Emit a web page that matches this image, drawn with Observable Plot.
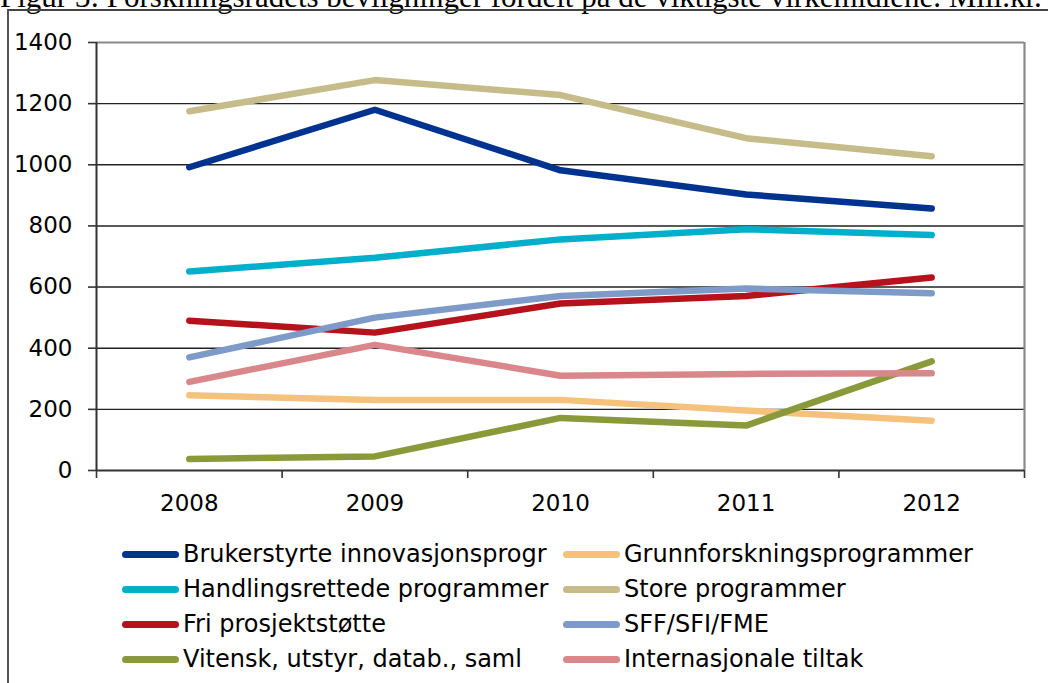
<!DOCTYPE html>
<html>
<head>
<meta charset="utf-8">
<script src="https://cdn.jsdelivr.net/npm/d3@7"></script>
<script src="https://cdn.jsdelivr.net/npm/@observablehq/plot@0.6"></script>
<style>
  html, body { margin: 0; padding: 0; background: #fff; }
  #wrap { position: relative; width: 1048px; height: 683px; overflow: hidden; background: #fff; }
  #title { position: absolute; left: 0; top: -19.5px; font-family: "Liberation Serif", "Times New Roman", serif; font-size: 31px; line-height: 31px; white-space: nowrap; color: #000; }
  #frame { position: absolute; left: 7px; top: 9px; width: 1200px; height: 900px; border-left: 2px solid #555; border-top: 2px solid #444; }
  #chart { position: absolute; left: 0; top: 0; }
  #legend { position: absolute; left: 0; top: 0; font-family: "DejaVu Sans", Verdana, sans-serif; font-size: 24px; color: #000; }
  .item { position: absolute; display: flex; align-items: center; height: 35px; line-height: 35px; white-space: nowrap; }
  .sw { display: inline-block; width: 57px; height: 7px; border-radius: 4px; margin-right: 4px; }
</style>
</head>
<body>
<div id="wrap">
  <div id="title">Figur 3: Forskningsrådets bevilgninger fordelt på de viktigste virkemidlene. Mill.kr.</div>
  <div id="frame"></div>
  <div id="chart"></div>
  <div id="legend"></div>
</div>
<script>
const years = [2008, 2009, 2010, 2011, 2012];
const seriesNames = [
  "Brukerstyrte innovasjonsprogr",
  "Grunnforskningsprogrammer",
  "Handlingsrettede programmer",
  "Store programmer",
  "Fri prosjektstøtte",
  "SFF/SFI/FME",
  "Vitensk, utstyr, datab., saml",
  "Internasjonale tiltak"
];
const brukerstyrte    = [992, 1180, 982, 903, 857];
const grunnforskning  = [246, 231, 231, 196, 163];
const handlingsrettede= [651, 696, 756, 789, 770];
const storeProgrammer = [1175, 1277, 1228, 1087, 1028];
const friProsjekt     = [490, 451, 546, 571, 631];
const sffSfiFme       = [370, 500, 571, 595, 580];
const vitensk         = [38, 46, 172, 147, 357];
const internasjonale  = [290, 411, 310, 316, 318];
const seriesColors = ["#00338F", "#F5C27E", "#00B0CA", "#C6BC89", "#B5121B", "#7E9AC8", "#8A9A3B", "#D9878A"];
const yTicks = [0, 200, 400, 600, 800, 1000, 1200, 1400];

const seriesValues = [brukerstyrte, grunnforskning, handlingsrettede, storeProgrammer, friProsjekt, sffSfiFme, vitensk, internasjonale];
const data = [];
seriesNames.forEach((name, i) => {
  years.forEach((yr, j) => data.push({series: name, year: yr, value: seriesValues[i][j]}));
});
const xMin = years[0] - 0.5, xMax = years[years.length - 1] + 0.5;
const boundaries = [xMin, ...years.map(y => y + 0.5)];

const chart = Plot.plot({
  width: 1048,
  height: 530,
  marginLeft: 96,
  marginRight: 24,
  marginTop: 42,
  marginBottom: 60,
  x: {type: "linear", domain: [xMin, xMax]},
  y: {domain: [0, 1400]},
  color: {domain: seriesNames, range: seriesColors},
  style: {fontFamily: "DejaVu Sans, Verdana, sans-serif", fontSize: "23px", color: "#000", background: "transparent", overflow: "visible"},
  marks: [
    Plot.ruleY(yTicks.slice(1, -1), {stroke: "#222", strokeWidth: 1.4}),
    Plot.ruleY([yTicks[yTicks.length - 1]], {stroke: "#8a8a8a", strokeWidth: 2.2}),
    Plot.ruleX([xMax], {stroke: "#8a8a8a", strokeWidth: 2.2}),
    Plot.line(data, {x: "year", y: "value", z: "series", stroke: "series", strokeWidth: 6.5, strokeLinecap: "round", strokeLinejoin: "round"}),
    Plot.ruleY([0], {stroke: "#333", strokeWidth: 2}),
    Plot.ruleX([xMin], {stroke: "#333", strokeWidth: 2}),
    Plot.axisY({ticks: yTicks, tickSize: 8, tickPadding: 16, tickFormat: d => String(d), label: null, stroke: "#333", strokeWidth: 1.6, strokeOpacity: 1}),
    Plot.axisX({ticks: boundaries, tickSize: 8, tickFormat: () => "", label: null, stroke: "#333", strokeWidth: 1.6, strokeOpacity: 1}),
    Plot.axisX({ticks: years, tickSize: 0, tickPadding: 24, tickFormat: d => String(d), label: null})
  ]
});
document.getElementById("chart").appendChild(chart);

// Legend (row-wise, two columns)
const legend = document.getElementById("legend");
const colX = [122, 563];
const rowTop = [537, 572, 607, 642];
seriesNames.forEach((name, i) => {
  const item = document.createElement("div");
  item.className = "item";
  item.style.left = colX[i % 2] + "px";
  item.style.top = rowTop[Math.floor(i / 2)] + "px";
  const sw = document.createElement("span");
  sw.className = "sw";
  sw.style.background = seriesColors[i];
  const label = document.createElement("span");
  label.textContent = name;
  item.appendChild(sw);
  item.appendChild(label);
  legend.appendChild(item);
});
</script>
</body>
</html>
